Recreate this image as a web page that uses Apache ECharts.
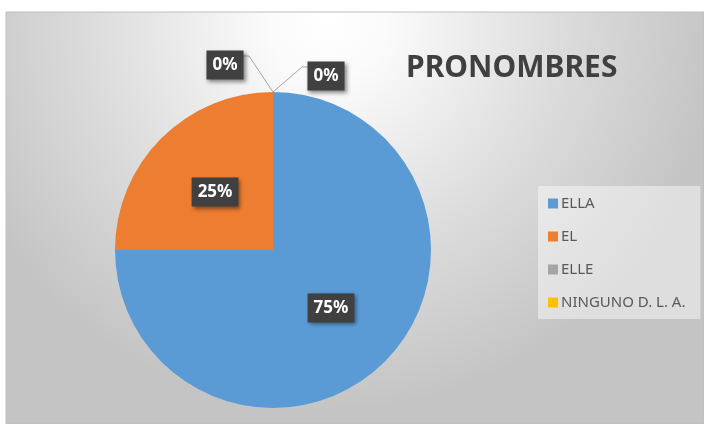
<!DOCTYPE html>
<html>
<head>
<meta charset="utf-8">
<script src="https://cdn.jsdelivr.net/npm/echarts@6/dist/echarts.min.js"></script>
<style>
  html, body { margin: 0; padding: 0; background: #fff; }
  #chart { width: 704px; height: 424px; }
</style>
</head>
<body>
<div id="chart"></div>
<script>
// datos del grafico
const categories = ['ELLA', 'EL', 'ELLE', 'NINGUNO D. L. A.'];
const values = [75, 25, 0, 0];
const colors = ['#5B9BD5', '#ED7D31', '#A5A5A5', '#FFC000'];

let myChart = echarts.init(document.getElementById('chart'));

let pieData = categories.map(function (name, i) {
    if (values[i] === 0) {
        return {
            name: name,
            value: values[i],
            label: { position: 'outside' },
            labelLine: { show: true, length: 10, length2: 10 }
        };
    }
    return { name: name, value: values[i] };
});

let option = {
    color: colors,
    animation: false,
    graphic: [{
        type: 'rect',
        z: -10,
        silent: true,
        shape: { x: 6, y: 12, width: 698, height: 412 },
        style: {
            fill: new echarts.graphic.RadialGradient(0.46, 0.02, 0.95, [
                { offset: 0, color: '#ffffff' },
                { offset: 0.15, color: '#fbfbfb' },
                { offset: 0.6, color: '#dcdcdc' },
                { offset: 1, color: '#c4c4c4' }
            ]),
            stroke: '#bfbfbf',
            lineWidth: 1
        }
    }],
    title: {
        text: 'PRONOMBRES',
        left: 401,
        top: 48,
        textStyle: {
            fontFamily: 'Noto Sans',
            fontSize: 30,
            fontWeight: 'bold',
            color: '#404040'
        }
    },
    legend: {
        orient: 'vertical',
        left: 538,
        top: 186,
        padding: [10, 15, 9, 10],
        itemGap: 18,
        itemWidth: 10,
        itemHeight: 10,
        icon: 'rect',
        backgroundColor: 'rgba(255,255,255,0.45)',
        textStyle: {
            fontFamily: 'Noto Sans',
            fontSize: 15,
            color: '#595959',
            padding: [0, 0, 0, -2]
        },
        data: categories
    },
    series: [{
        name: 'PRONOMBRES',
        type: 'pie',
        center: [273, 250],
        radius: 158,
        startAngle: 90,
        clockwise: true,
        avoidLabelOverlap: false,
        percentPrecision: 0,
        label: {
            show: true,
            position: 'inside',
            formatter: '{d}%',
            fontFamily: 'Noto Sans',
            fontSize: 17,
            fontWeight: 'bold',
            color: '#ffffff',
            backgroundColor: '#404040',
            padding: [6, 6, 6, 6],
            shadowBlur: 4,
            shadowColor: 'rgba(0,0,0,0.45)',
            shadowOffsetX: 2,
            shadowOffsetY: 2
        },
        labelLine: {
            show: false,
            lineStyle: { color: '#a6a6a6', width: 1 }
        },
        // etiquetas de 0% arriba del pastel
        labelLayout: function (params) {
            if (values[params.dataIndex] !== 0) {
                return {};
            }
            let p0 = [params.rect.x, params.rect.y];
            let w = params.labelRect.width;
            let h = params.labelRect.height;
            if (params.dataIndex === 2) {
                let cx = p0[0] - 48, cy = p0[1] - 27;
                return {
                    x: cx - w / 2,
                    y: cy - h / 2,
                    align: 'left',
                    verticalAlign: 'top',
                    labelLinePoints: [p0, [p0[0] - 24, p0[1] - 36], [cx + w / 2, p0[1] - 36]]
                };
            }
            let cx = p0[0] + 53, cy = p0[1] - 16;
            return {
                x: cx - w / 2,
                y: cy - h / 2,
                align: 'left',
                verticalAlign: 'top',
                labelLinePoints: [p0, [p0[0] + 29, p0[1] - 25], [cx - w / 2, p0[1] - 25]]
            };
        },
        data: pieData
    }]
};
myChart.setOption(option);
</script>
</body>
</html>
